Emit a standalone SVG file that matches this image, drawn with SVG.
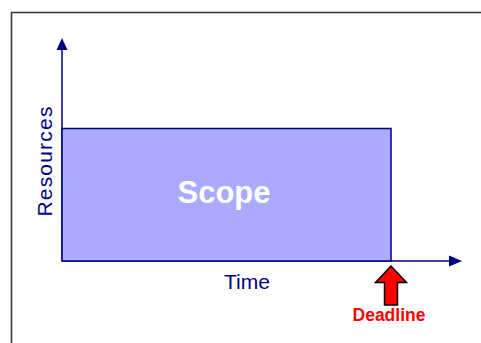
<svg xmlns="http://www.w3.org/2000/svg" width="481" height="343" viewBox="0 0 481 343">
  <defs>
    <style>
      .frame { fill: none; stroke: #333333; stroke-width: 1.5; }
      .axis { stroke: #000080; stroke-width: 1.5; fill: none; }
      .head { fill: #000080; }
      .scope { fill: #AAAAFF; stroke: #000080; stroke-width: 1.5; }
      .label { font-family: "Liberation Sans", Arial, sans-serif; fill: #000080; }
      .deadline { fill: #FF0000; stroke: #000000; stroke-width: 1.5; stroke-linejoin: miter; }
    </style>
  </defs>

  <rect width="481" height="343" fill="#FFFFFF"/>

  <!-- outer panel border -->
  <path class="frame" d="M11.5 343 V12.5 H481"/>

  <!-- axes -->
  <g id="connectors">
    <line class="axis" x1="62" y1="261" x2="62" y2="49"/>
    <polygon class="head" points="62,38 56.5,50 67.5,50"/>
    <line class="axis" x1="62" y1="261" x2="450" y2="261"/>
    <polygon class="head" points="462,261 449,255.5 449,266.5"/>
  </g>

  <!-- scope block -->
  <g id="scope">
    <rect class="scope" x="62" y="128.5" width="329" height="132.5"/>
    <text x="224" y="203" text-anchor="middle" font-family="Liberation Sans, Arial, sans-serif" font-weight="bold" font-size="31" fill="#FFFFFF">Scope</text>
  </g>

  <g id="resources-label">
    <text class="label" transform="translate(52,161) rotate(-90)" text-anchor="middle" font-size="21" letter-spacing="1.2">Resources</text>
  </g>

  <g id="time-label">
    <text class="label" x="247" y="289" text-anchor="middle" font-size="21">Time</text>
  </g>

  <!-- deadline marker -->
  <g id="deadline">
    <polygon class="deadline" points="391,266 375.5,282.5 384.5,282.5 384.5,305 397.5,305 397.5,282.5 406.5,282.5"/>
    <text x="389" y="321" text-anchor="middle" font-family="Liberation Sans, Arial, sans-serif" font-weight="bold" font-size="17.5" fill="#FF0000">Deadline</text>
  </g>
</svg>
